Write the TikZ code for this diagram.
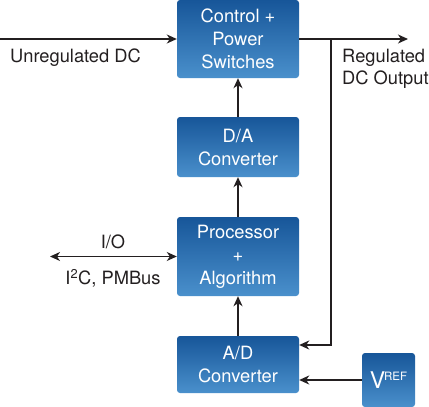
\documentclass[tikz,border=0pt]{standalone}
\usepackage{fontspec}
\setmainfont{TeX Gyre Heros}
\usetikzlibrary{arrows.meta}
\definecolor{boxtop}{HTML}{175699}
\definecolor{boxbot}{HTML}{4A90CC}
\definecolor{ink}{HTML}{231F20}
\tikzset{
  blk/.style={rounded corners=3pt, top color=boxtop, bottom color=boxbot, draw=none,
    text=white, font=\fontsize{18.3}{23}\selectfont, align=center,
    minimum width=122pt, inner sep=0pt},
  conn/.style={draw=ink, line width=1.4pt, -{Stealth[length=10pt,width=9pt,inset=3pt]}},
  conn2/.style={draw=ink, line width=1.4pt, {Stealth[length=10pt,width=9pt,inset=3pt]}-{Stealth[length=10pt,width=9pt,inset=3pt]}},
  wire/.style={draw=ink, line width=1.4pt},
  lbl/.style={text=ink, font=\fontsize{18.3}{22}\selectfont, inner sep=0pt}
}
\begin{document}
\begin{tikzpicture}[x=1pt,y=-1pt]
\useasboundingbox (0,0) rectangle (429,407);
\node[blk, minimum height=78pt] (ctrl) at (238,39) {Control +\\Power\\Switches};
\node[blk, minimum height=60pt] (da) at (238,147) {D/A\\Converter};
\node[blk, minimum height=79pt] (proc) at (238,256.5) {Processor\\+\\Algorithm};
\node[blk, minimum height=57pt] (ad) at (238,364.5) {A/D\\Converter};
\node[blk, minimum width=53pt, minimum height=54pt] (vref) at (388.5,380)
  {\fontsize{23}{24}\selectfont V\kern-1pt\raisebox{8pt}{\fontsize{11.5}{12}\selectfont REF}};
\coordinate (in) at (0,39);
\coordinate (out) at (408,39);
\coordinate (j) at (331,39);
\coordinate (fb) at (331,345);
\coordinate (io) at (50,256.5);
\draw[conn] (in) -- (ctrl.west);
\draw[conn] (ctrl.east) -- (out);
\draw[conn] (j) -- (fb) -- (fb -| ad.east);
\draw[conn] (vref.west) -- (vref.west -| ad.east);
\draw[conn] (ad.north) -- (proc.south);
\draw[conn] (proc.north) -- (da.south);
\draw[conn] (da.north) -- (ctrl.south);
\draw[conn2] (io) -- (proc.west);
\node[lbl, anchor=west] (ul) at (10,58) {Unregulated DC};
\node[lbl, anchor=west, align=left] (rl) at (342,69) {Regulated\\DC Output};
\node[lbl] (iol) at (113,242) {I/O};
\node[lbl] (i2c) at (113,278) {I\textsuperscript{2}C, PMBus};
\end{tikzpicture}
\end{document}
